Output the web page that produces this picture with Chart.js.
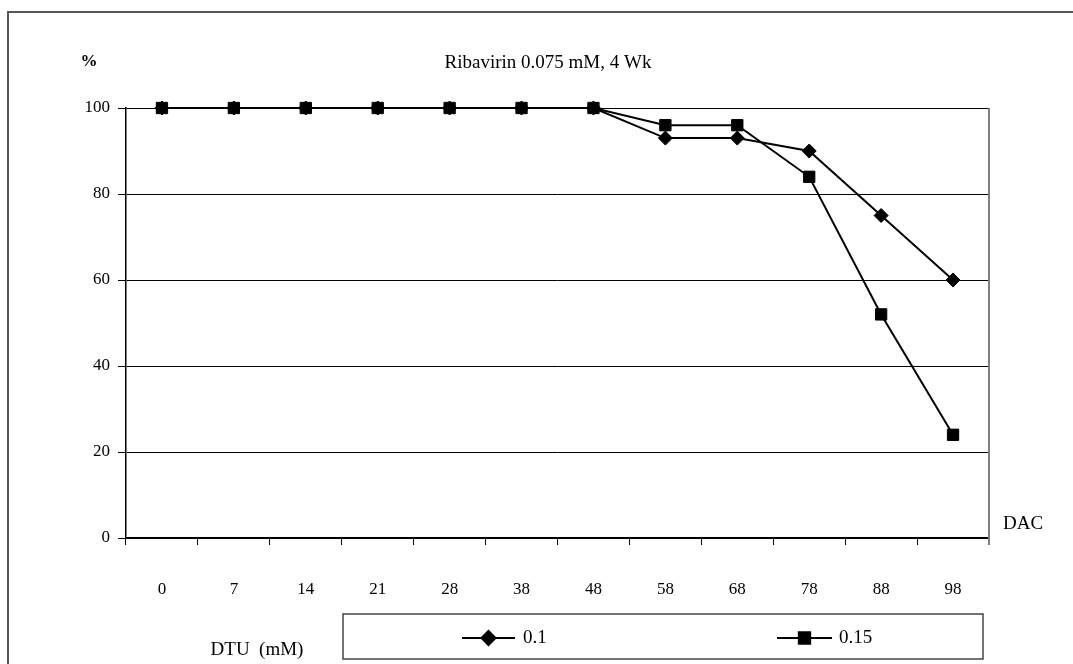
<!DOCTYPE html>
<html>
<head>
<meta charset="utf-8">
<script src="https://cdn.jsdelivr.net/npm/chart.js@4"></script>
<style>
  html, body { margin: 0; padding: 0; background: #fff; }
  canvas { display: block; }
</style>
</head>
<body>
<canvas id="c" width="1073" height="664"></canvas>
<script>
const categories = ['0', '7', '14', '21', '28', '38', '48', '58', '68', '78', '88', '98'];
const series01 = [100, 100, 100, 100, 100, 100, 100, 93, 93, 90, 75, 60];
const series015 = [100, 100, 100, 100, 100, 100, 100, 96, 96, 84, 52, 24];
const seriesNames = ['0.1', '0.15'];
const yTicks = [0, 20, 40, 60, 80, 100];
const titleText = 'Ribavirin 0.075 mM, 4 Wk';
const yUnit = '%';
const xUnit = 'DAC';
const legendTitle = 'DTU  (mM)';

const FONT = 'Liberation Serif, Times New Roman, serif';

const overlay = {
  id: 'overlay',
  beforeDraw(chart) {
    const ctx = chart.ctx;
    ctx.save();
    ctx.fillStyle = '#fff';
    ctx.fillRect(0, 0, chart.width, chart.height);
    ctx.restore();
  },
  afterDraw(chart) {
    const ctx = chart.ctx;
    const area = chart.chartArea;
    ctx.save();
    // outer frame
    ctx.strokeStyle = '#555';
    ctx.lineWidth = 2;
    ctx.beginPath();
    ctx.moveTo(8, chart.height + 5);
    ctx.lineTo(8, 12);
    ctx.lineTo(chart.width + 5, 12);
    ctx.stroke();
    // right edge of plot
    ctx.strokeStyle = '#808080';
    ctx.lineWidth = 2;
    ctx.beginPath();
    ctx.moveTo(area.right, area.top);
    ctx.lineTo(area.right, area.bottom + 7);
    ctx.stroke();

    ctx.fillStyle = '#000';
    ctx.textBaseline = 'middle';
    // title
    ctx.font = '19px ' + FONT;
    ctx.textAlign = 'center';
    ctx.fillText(titleText, 548, 63);
    // % label
    ctx.font = 'bold 17px ' + FONT;
    ctx.textAlign = 'center';
    ctx.fillText(yUnit, 89, 62);
    // DAC
    ctx.font = '19px ' + FONT;
    ctx.textAlign = 'left';
    ctx.fillText(xUnit, 1003, 524);
    // DTU (mM)
    ctx.textAlign = 'center';
    ctx.fillText(legendTitle, 257, 650);

    // legend box
    ctx.strokeStyle = '#444';
    ctx.lineWidth = 1.5;
    ctx.strokeRect(343, 614, 640, 45);
    const ly = 638;
    const items = [
      { x0: 462, x1: 515, tx: 523, style: 'rectRot', r: 7, label: seriesNames[0] },
      { x0: 777, x1: 832, tx: 839, style: 'rect', r: 8, label: seriesNames[1] }
    ];
    items.forEach(it => {
      ctx.strokeStyle = '#000';
      ctx.lineWidth = 2;
      ctx.beginPath();
      ctx.moveTo(it.x0, ly);
      ctx.lineTo(it.x1, ly);
      ctx.stroke();
      ctx.fillStyle = '#000';
      Chart.helpers.drawPoint(ctx, { pointStyle: it.style, radius: it.r, borderWidth: 1 }, (it.x0 + it.x1) / 2, ly);
      ctx.fill();
      ctx.fillStyle = '#000';
      ctx.textAlign = 'left';
      ctx.font = '19px ' + FONT;
      ctx.fillText(it.label, it.tx, ly);
    });
    ctx.restore();
  }
};

new Chart(document.getElementById('c'), {
  type: 'line',
  data: {
    labels: categories,
    datasets: [
      {
        label: seriesNames[0],
        data: series01,
        borderColor: '#000',
        backgroundColor: '#000',
        borderWidth: 2,
        pointStyle: 'rectRot',
        pointRadius: 7,
        pointBorderWidth: 1,
        tension: 0,
        clip: false,
        order: 2
      },
      {
        label: seriesNames[1],
        data: series015,
        borderColor: '#000',
        backgroundColor: '#000',
        borderWidth: 2,
        pointStyle: 'rect',
        pointRadius: 8,
        pointBorderWidth: 1,
        tension: 0,
        clip: false,
        order: 1
      }
    ]
  },
  options: {
    responsive: false,
    animation: false,
    devicePixelRatio: 1,
    layout: { padding: { top: 108, right: 84, bottom: 0, left: 0 } },
    plugins: {
      legend: { display: false },
      title: { display: false },
      tooltip: { enabled: false }
    },
    scales: {
      x: {
        type: 'category',
        offset: true,
        grid: {
          offset: true,
          drawOnChartArea: false,
          drawTicks: true,
          tickLength: 7,
          color: '#000',
          tickColor: '#000',
          lineWidth: 1
        },
        border: { color: '#000', width: 1.5 },
        ticks: {
          padding: 34,
          color: '#000',
          maxRotation: 0,
          autoSkip: false,
          font: { family: FONT, size: 17 }
        },
        afterFit(s) { s.height = 126; }
      },
      y: {
        min: 0,
        max: 100,
        afterBuildTicks(s) { s.ticks = yTicks.map(v => ({ value: v })); },
        grid: {
          color: '#000',
          tickColor: '#000',
          tickLength: 8,
          lineWidth: 1
        },
        border: { color: '#000', width: 1.5 },
        ticks: {
          padding: 8,
          color: '#000',
          font: { family: FONT, size: 17 }
        },
        afterFit(s) { s.width = 126; }
      }
    }
  },
  plugins: [overlay]
});
</script>
</body>
</html>
